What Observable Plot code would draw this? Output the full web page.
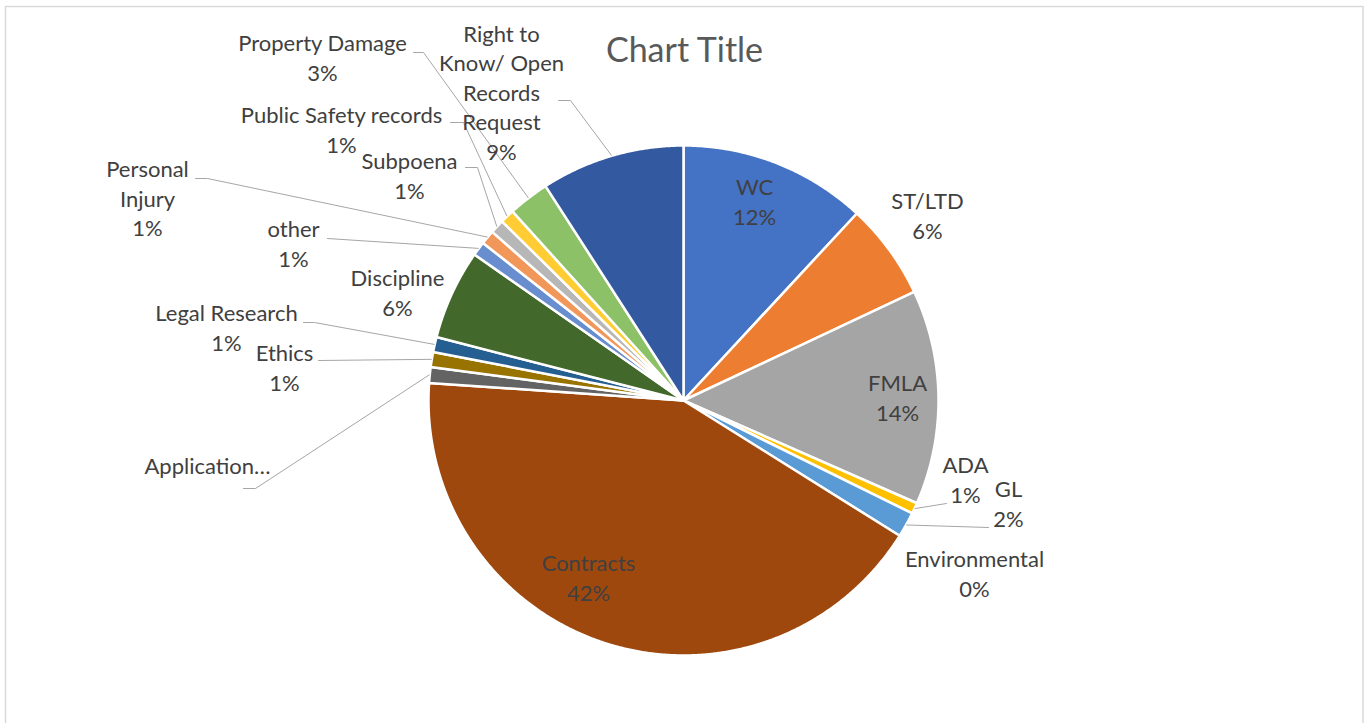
<!DOCTYPE html>
<html><head><meta charset="utf-8">
<script src="https://cdn.jsdelivr.net/npm/d3@7"></script>
<script src="https://cdn.jsdelivr.net/npm/@observablehq/plot@0.6"></script>
<style>html,body{margin:0;padding:0;background:#fff;overflow:hidden}</style>
</head><body><div id="chart"></div>
<script>
// ---- data ----
const categories = ["WC","ST/LTD","FMLA","ADA","GL","Environmental","Contracts","Application…","Ethics","Legal Research","Discipline","other","Personal Injury","Subpoena","Public Safety records","Property Damage","Right to Know/ Open Records Request"];
const shares = [11.9,6.1,13.6,0.7,1.6,0,42.2,1.0,0.95,0.95,5.7,0.9,0.9,0.9,0.9,2.6,9.1];
const labelText = ["WC","ST/LTD","FMLA","ADA","GL","Environmental","Contracts","Application…","Ethics","Legal Research","Discipline","other","Personal\nInjury","Subpoena","Public Safety records","Property Damage","Right to\nKnow/ Open\nRecords\nRequest"];
const showPercent = [1,1,1,1,1,1,1,0,1,1,1,1,1,1,1,1,1];
const sliceColors = ["#4472C4","#ED7D31","#A5A5A5","#FFC000","#5B9BD5","#70AD47","#9E480E","#636363","#997300","#255E91","#43682B","#698ED0","#F1975A","#B7B7B7","#FFCD33","#8CC168","#335AA1"];
const chartTitle = "Chart Title";

// ---- layout (pixels) ----
const W = 1364, H = 723, CX = 683, CY = 400, R = 255;
const labelPos = [[754,203],[927,217],[897,399],[965,481],[1008,505],[974,575],[588,579],[207,467],[284,369],[226,329],[397,294],[293,245],[147,200],[409,177],[341,131],[322,59],[501,94]];
const leaderElbows = {
  "ADA": [[946,503]],
  "GL": [[988,527]],
  "Application…": [[243,488],[255,488]],
  "Ethics": [[318,360]],
  "Legal Research": [[303,322],[314,322]],
  "other": [[327,238]],
  "Personal Injury": [[195,178],[207,178]],
  "Subpoena": [[465,167],[477,167]],
  "Public Safety records": [[450,122],[463,122]],
  "Property Damage": [[413,52],[423,52]],
  "Right to Know/ Open Records Request": [[558,100],[570,100]]
};

const total = d3.sum(shares);
const slicePts = [], labels = [], leaders = [];
let acc = 0;
categories.forEach((c, i) => {
  const a0 = acc / total * 2 * Math.PI;
  acc += shares[i];
  const a1 = acc / total * 2 * Math.PI;
  const mid = (a0 + a1) / 2;
  if (shares[i] > 0) {
    slicePts.push({cat: c, x: CX, y: CY});
    const n = Math.max(2, Math.ceil((a1 - a0) / 0.005));
    for (let k = 0; k <= n; k++) {
      const a = a0 + (a1 - a0) * k / n;
      slicePts.push({cat: c, x: CX + R * Math.sin(a), y: CY - R * Math.cos(a)});
    }
    slicePts.push({cat: c, x: CX, y: CY});
  }
  const pct = Math.round(shares[i] / total * 100 + 1e-9) + "%";
  labels.push({cat: c, x: labelPos[i][0], y: labelPos[i][1], text: showPercent[i] ? labelText[i] + "\n" + pct : labelText[i]});
  if (leaderElbows[c]) {
    leaderElbows[c].forEach(p => leaders.push({cat: c, x: p[0], y: p[1]}));
    leaders.push({cat: c, x: CX + (R + 0.5) * Math.sin(mid), y: CY - (R + 0.5) * Math.cos(mid)});
  }
});

const chart = Plot.plot({
  width: W, height: H,
  margin: 0,
  x: {domain: [0, W], range: [0, W], axis: null},
  y: {domain: [0, H], range: [0, H], axis: null},
  color: {domain: categories, range: sliceColors},
  style: {fontFamily: "Lato, sans-serif", background: "#fff"},
  marks: [
    Plot.frame({stroke: "#d9d9d9", strokeWidth: 1.5, insetLeft: 5, insetTop: 6, insetRight: 1.5, insetBottom: -20}),
    Plot.line(slicePts, {x: "x", y: "y", z: "cat", fill: "cat", stroke: "white", strokeWidth: 2.5, strokeLinejoin: "round", curve: "linear"}),
    Plot.line(leaders, {x: "x", y: "y", z: "cat", stroke: "#a6a6a6", strokeWidth: 1, curve: "linear"}),
    Plot.text(labels, {x: "x", y: "y", dy: -3, text: "text", fill: "#404040", fontSize: 22, lineHeight: 1.34, textAnchor: "middle", lineAnchor: "middle"}),
    Plot.text([chartTitle], {x: () => 684, y: () => 50, dy: 1, text: d => d, fill: "#595959", fontSize: 34, textAnchor: "middle", lineAnchor: "middle"})
  ]
});
document.getElementById("chart").appendChild(chart);
</script>
</body></html>
